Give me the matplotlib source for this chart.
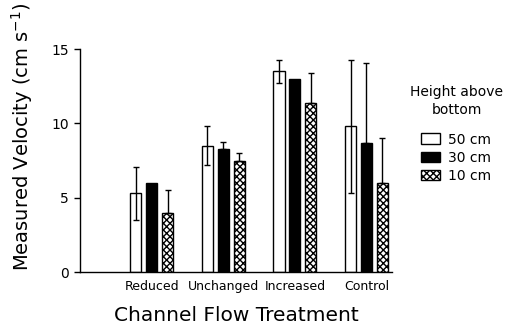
import matplotlib
matplotlib.use("Agg")
import matplotlib.pyplot as plt
import numpy as np

treatments = ["Reduced", "Unchanged", "Increased", "Control"]
heights = ["50 cm", "30 cm", "10 cm"]

vel_50 = [5.3, 8.5, 13.5, 9.8]
vel_30 = [6.0, 8.3, 13.0, 8.65]
vel_10 = [4.0, 7.5, 11.35, 6.0]

err_50 = [1.77, 1.3, 0.77, 4.45]
err_30 = [0.0, 0.48, 0.0, 5.4]
err_10 = [1.5, 0.5, 2.05, 3.05]

plt.rcParams["font.family"] = "DejaVu Sans"
plt.rcParams["hatch.linewidth"] = 1.0

fig = plt.figure(figsize=(5.14, 3.25), dpi=100)
ax = fig.add_axes([0.156, 0.163, 0.607, 0.686])

x = np.arange(1, len(treatments) + 1)
w = 0.155
off = 0.222

styles = [
    dict(facecolor="white", edgecolor="black", hatch=None),
    dict(facecolor="black", edgecolor="black", hatch=None),
    dict(facecolor="white", edgecolor="black", hatch="xxxxx"),
]
series = [(vel_50, err_50, True), (vel_30, err_30, False), (vel_10, err_10, False)]

handles = []
for i, ((vals, errs, both), st, lab) in enumerate(zip(series, styles, heights)):
    xs = x + (i - 1) * off
    b = ax.bar(xs, vals, width=w, linewidth=1.0, label=lab, **st)
    handles.append(b)
    lower = errs if both else [0] * len(errs)
    yerr = np.array([lower, errs])
    keep = np.array(errs) > 0
    ax.errorbar(xs[keep], np.array(vals)[keep], yerr=yerr[:, keep], fmt="none",
                ecolor="black", elinewidth=1.0, capsize=2.5, capthick=1.0)

ax.set_xlim(0, 4.36)
ax.set_ylim(0, 15)
ax.set_yticks([0, 5, 10, 15])
ax.set_xticks(x)
ax.set_xticklabels(treatments, fontsize=9)
ax.tick_params(axis="x", length=0, pad=6)
ax.tick_params(axis="y", length=4, width=1, labelsize=10, pad=4)
for s in ["top", "right"]:
    ax.spines[s].set_visible(False)
for s in ["left", "bottom"]:
    ax.spines[s].set_linewidth(1.0)

ax.set_ylabel("Measured Velocity (cm s$^{-1}$)", fontsize=14)
ax.yaxis.set_label_coords(-0.186, 0.605)
ax.yaxis.label.set_verticalalignment("center")
ax.set_xlabel("Channel Flow Treatment", fontsize=14.5)
ax.xaxis.set_label_coords(0.5, -0.195)
ax.xaxis.label.set_verticalalignment("center")

fig.text(457 / 514, 1 - 101 / 325, "Height above\nbottom", ha="center", va="center",
         fontsize=10, linespacing=1.45)
fig.legend(handles=handles, labels=heights, loc="upper left",
           bbox_to_anchor=(408 / 514, 1 - 120 / 325), frameon=False,
           fontsize=10, handlelength=1.4, handleheight=0.8,
           handletextpad=0.6, labelspacing=0.3)

fig.savefig("out.png", dpi=100)
